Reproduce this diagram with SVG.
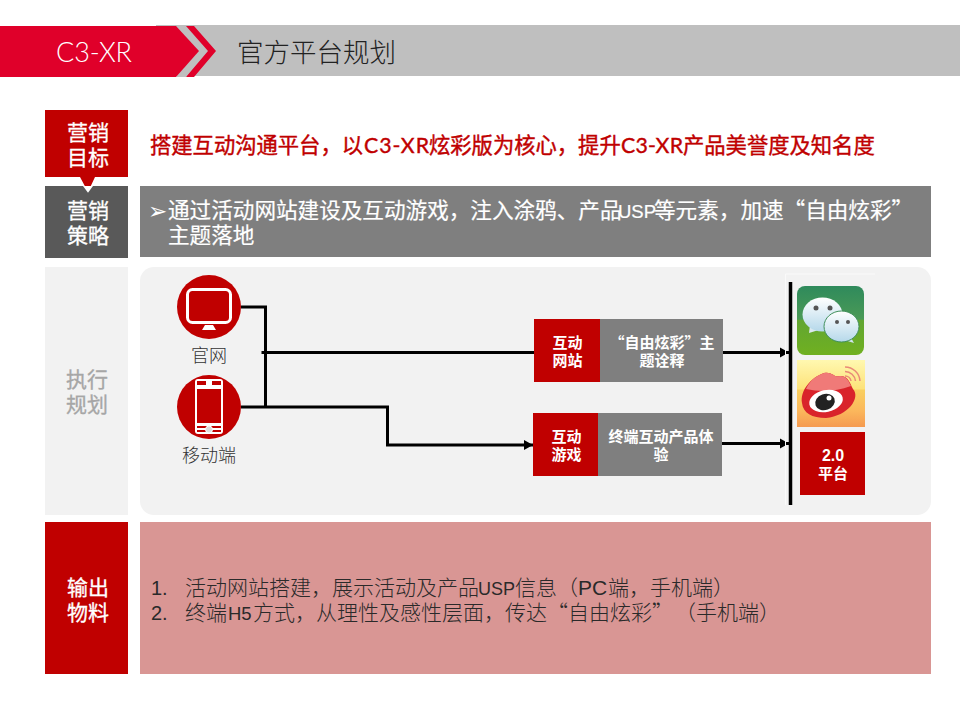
<svg xmlns="http://www.w3.org/2000/svg" width="960" height="720" viewBox="0 0 960 720">
<defs>
<marker id="arr" markerUnits="userSpaceOnUse" markerWidth="11" markerHeight="11" refX="9" refY="5.500" orient="auto"><path d="M0 .5L9 5.500L0 10.500Z" fill="#000"/></marker>
<linearGradient id="wx" x1="0" y1="0" x2="0" y2="1"><stop offset="0" stop-color="#2f8a5c"/><stop offset=".48" stop-color="#4a9a56"/><stop offset=".5" stop-color="#62a632"/><stop offset="1" stop-color="#70b020"/></linearGradient>
<linearGradient id="bub" x1="0" y1="0" x2="0" y2="1"><stop offset="0" stop-color="#fff"/><stop offset="1" stop-color="#b5d8ea"/></linearGradient>
<linearGradient id="wb" x1="0" y1="0" x2="0" y2="1"><stop offset="0" stop-color="#fff8b0"/><stop offset=".43" stop-color="#fde27a"/><stop offset=".45" stop-color="#f9cf60"/><stop offset=".75" stop-color="#fbb85c"/><stop offset="1" stop-color="#f59a50"/></linearGradient>
</defs>
<style>
text{font-family:"Noto Sans CJK SC","Liberation Sans",sans-serif}
.h{font-size:21px;fill:#fff;text-anchor:middle;stroke:#fff;stroke-width:.3}
.s{font-size:15px;font-weight:700;fill:#fff;text-anchor:middle}
.b{font-size:21.6px;fill:#fff;stroke:#fff;stroke-width:.2}
.o{font-size:21px;fill:#2a2a2a;font-weight:300}
.l{font-size:18px;fill:#333;text-anchor:middle;font-weight:300}
.c{fill:none;stroke:#000;stroke-width:3}
.r{fill:#c00000}
.g{fill:#7f7f7f}
.lat{font-family:"Liberation Sans",sans-serif}
.cg{font-family:"Lato","Liberation Sans",sans-serif}
</style>
<g id="header">
<rect x="156" y="25" width="804" height="51" fill="#bfbfbf"/>
<path d="M176 26H186L208 51L186 77H176L199 51Z" fill="#bfbfbf"/>
<path d="M0 26H176L199 51L176 77H0Z" fill="#e0002a"/>
<path d="M186 26H194L216 51L194 77H186L208 51Z" fill="#e0002a"/>
<text x="94" y="62" font-size="27" font-weight="300" fill="#fff" text-anchor="middle" class="cg" textLength="76" lengthAdjust="spacing">C3-XR</text>
<text x="237" y="62" font-size="26.500" font-weight="300" fill="#222">官方平台规划</text>
</g>
<g id="goal">
<path d="M45 110H128V177H95L88 192L80 177H45Z" class="r"/>
<text x="88" y="140" class="h">营销<tspan x="88" dy="25">目标</tspan></text>
<text y="153" font-size="21.300" fill="#c00000" stroke="#c00000" stroke-width=".4"><tspan x="150">搭建互动沟通平台，以</tspan><tspan x="364" class="cg" textLength="65">C3-XR</tspan><tspan x="429">炫彩版为核心，提升</tspan><tspan x="621" class="cg" textLength="62">C3-XR</tspan><tspan x="683">产品美誉度及知名度</tspan></text>
</g>
<g id="strategy">
<rect x="45" y="186" width="83" height="72" fill="#595959"/>
<path d="M83 186H93L88 192.700Z" fill="#fff"/>
<text x="88" y="218" class="h">营销<tspan x="88" dy="25">策略</tspan></text>
<rect x="140" y="186" width="791" height="71" class="g"/>
<text x="148" y="219" font-size="23" fill="#fff" style="font-family:'DejaVu Sans',sans-serif">➢</text>
<text y="218" class="b"><tspan x="168">通过活动网站建设及互动游戏，注入涂鸦、产品</tspan><tspan x="618" class="lat" font-size="18.500">USP</tspan><tspan x="654">等元素，加速“自由炫彩”</tspan><tspan x="168" dy="25">主题落地</tspan></text>
</g>
<g id="exec">
<rect x="45" y="267" width="83" height="248" fill="#f2f2f2"/>
<text x="87" y="387" class="h" style="fill:#a6a6a6;stroke:#a6a6a6">执行<tspan x="87" dy="25">规划</tspan></text>
<rect x="140" y="267" width="791" height="248" rx="14" fill="#f2f2f2"/>
</g>
<g id="connectors">
<path class="c" d="M241 307H265.500V407"/>
<path class="c" d="M261.500 352.500H534"/>
<path class="c" d="M241 407H387.500V445H533" marker-end="url(#arr)"/>
<path class="c" d="M723 352.500H789" marker-end="url(#arr)"/>
<path class="c" d="M722 443.500H789" marker-end="url(#arr)"/>
<path d="M790.500 282V505" stroke="#000" stroke-width="3.500" fill="none"/>
<path d="M785.500 505V274H875" stroke="#fafafa" stroke-width="1" fill="none"/>
</g>
<g id="pc">
<circle cx="209" cy="307" r="32" class="r"/>
<rect x="187.500" y="289.500" width="43" height="33" rx="5" fill="none" stroke="#fff" stroke-width="3"/>
<path d="M205 325H213L216 330H202Z" fill="#fff"/>
<text x="209" y="361.500" class="l">官网</text>
</g>
<g id="mobile">
<circle cx="209" cy="407" r="32" class="r"/>
<rect x="195" y="379" width="28" height="55" rx="3" fill="#fff"/>
<rect x="197" y="389" width="24" height="34" class="r"/>
<rect x="197" y="381" width="9" height="4" class="r"/><rect x="212" y="381" width="9" height="4" class="r"/>
<rect x="197" y="426" width="24" height="2" class="r"/><rect x="197" y="430" width="24" height="2" class="r"/>
<circle cx="209" cy="429.500" r="3.500" fill="#ddd" stroke="#fff"/>
<text x="209" y="462" class="l">移动端</text>
</g>
<g id="site">
<rect x="534" y="319" width="66" height="63" class="r"/>
<rect x="600" y="319" width="123" height="63" class="g"/>
<text x="567.500" y="348" class="s">互动<tspan x="567.500" dy="18">网站</tspan></text>
<text x="662" y="348" class="s">“自由炫彩”主<tspan x="662" dy="18">题诠释</tspan></text>
</g>
<g id="game">
<rect x="533" y="413" width="65" height="63" class="r"/>
<rect x="598" y="413" width="124" height="63" class="g"/>
<text x="566.500" y="442" class="s">互动<tspan x="566.500" dy="18">游戏</tspan></text>
<text x="661" y="442" class="s">终端互动产品体<tspan x="661" dy="18">验</tspan></text>
</g>
<g id="wechat">
<rect x="797" y="286" width="67" height="69" rx="8" fill="url(#wx)"/>
<path d="M810 325L809 333L822 329Z" fill="#dbe9ef"/>
<ellipse cx="822.500" cy="314.500" rx="20" ry="17" fill="url(#bub)"/>
<path d="M850 336L854 343L844 340Z" fill="#cfe4ee"/>
<ellipse cx="841.500" cy="326.500" rx="17.500" ry="15.500" fill="url(#bub)" stroke="#3f8f5a"/>
<circle cx="816" cy="308" r="2.500" fill="#555"/><circle cx="830" cy="308" r="2.500" fill="#555"/>
<circle cx="837" cy="322" r="2" fill="#555"/><circle cx="848" cy="322" r="2" fill="#555"/>
</g>
<g id="weibo">
<rect x="797" y="360" width="68" height="67" fill="url(#wb)"/>
<path d="M802 403C800 391 810 378 824 373C832 371 834 378 840 376C849 376 850 384 853 389C861 398 848 416 826 418C812 418 803 413 802 403Z" fill="#d9232b"/>
<path d="M806 389C810 380 816 376 824 373C832 371 834 378 840 376C847 376 849 382 851 386C835 392 820 392 806 389Z" fill="#f07a78"/>
<ellipse cx="826" cy="401" rx="17" ry="11" fill="#fff" transform="rotate(-12 826 401)"/>
<ellipse cx="825" cy="402" rx="10" ry="8" fill="#222" transform="rotate(-20 825 402)"/>
<circle cx="829" cy="398" r="2.500" fill="#fff"/>
<path d="M845 367A15 15 0 0 1 860 381M845 371.500A10.500 10.500 0 0 1 855.500 381M845 376A6 6 0 0 1 851 381" fill="none" stroke="#e98a78" stroke-width="1.500"/>
</g>
<g id="platform">
<rect x="800" y="432" width="65" height="63" class="r"/>
<text x="833" y="460.500" class="s"><tspan class="lat" font-size="16">2.0</tspan><tspan x="833" dy="18">平台</tspan></text>
</g>
<g id="output">
<rect x="45" y="522" width="83" height="152" class="r"/>
<text x="88" y="595" class="h">输出<tspan x="88" dy="25">物料</tspan></text>
<rect x="140" y="522" width="791" height="152" fill="#d99694"/>
<text class="o" y="595"><tspan x="151" class="lat" font-size="20">1.</tspan><tspan x="185">活动网站搭建，展示活动及产品</tspan><tspan x="478" class="lat" font-size="18">USP</tspan><tspan x="515">信息（</tspan><tspan x="578" class="lat">PC</tspan><tspan x="608">端，手机端）</tspan></text>
<text class="o" y="620"><tspan x="151" class="lat" font-size="20">2.</tspan><tspan x="185">终端</tspan><tspan x="228" class="lat" font-size="18.500">H5</tspan><tspan x="253">方式，从理性及感性层面，传达“自由炫彩”</tspan><tspan x="675">（手机端）</tspan></text>
</g>
</svg>
